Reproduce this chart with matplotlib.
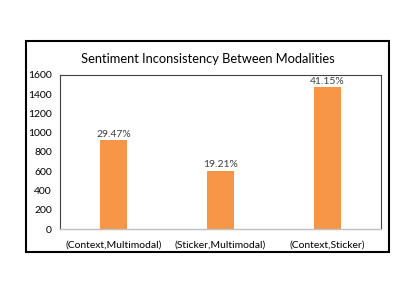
import matplotlib.pyplot as plt
from matplotlib.patches import Rectangle

categories = ['(Context,Multimodal)', '(Sticker,Multimodal)', '(Context,Sticker)']
counts = [920, 600, 1470]
percents = ['29.47%', '19.21%', '41.15%']
yticks = [0, 200, 400, 600, 800, 1000, 1200, 1400, 1600]

plt.rcParams['font.family'] = ['Lato', 'DejaVu Sans']

fig = plt.figure(figsize=(4.15, 2.94), dpi=100)
fig.patches.append(Rectangle((0.063, 0.143), 0.874, 0.718, transform=fig.transFigure,
                             fill=False, edgecolor='black', linewidth=1.5))

ax = fig.add_axes([0.145, 0.221, 0.773, 0.524])
x = range(len(categories))
bars = ax.bar(x, counts, width=0.25, color='#F79646')
for b, p in zip(bars, percents):
    ax.text(b.get_x() + b.get_width() / 2, b.get_height() + 20, p,
            ha='center', va='bottom', fontsize=7.5, color='#404040')

ax.set_xlim(-0.5, 2.5)
ax.set_ylim(0, 1600)
ax.set_yticks(yticks)
ax.set_xticks(list(x))
ax.set_xticklabels(categories)
ax.tick_params(axis='both', length=0, labelsize=7.5, colors='black')
ax.tick_params(axis='x', pad=8)
ax.tick_params(axis='y', pad=6)
for s in ['top', 'left', 'right']:
    ax.spines[s].set_color('#404040')
    ax.spines[s].set_linewidth(0.8)
ax.spines['bottom'].set_color('#BFBFBF')
ax.spines['bottom'].set_linewidth(1)

fig.text(0.5, 0.80, 'Sentiment Inconsistency Between Modalities', ha='center',
         va='center', fontsize=9.3, color='black')

fig.savefig('out.png', dpi=100)
